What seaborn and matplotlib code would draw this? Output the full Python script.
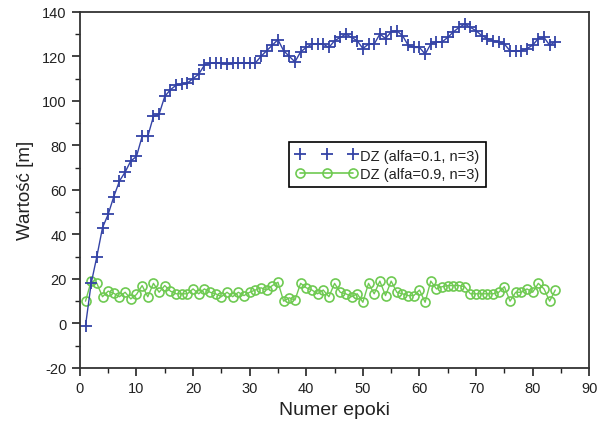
import numpy as np
import pandas as pd
import matplotlib
matplotlib.use("Agg")
import matplotlib.pyplot as plt
import seaborn as sns
from matplotlib.lines import Line2D
from matplotlib.ticker import MultipleLocator

epochs = list(range(1, 85))
dz_alfa01 = [-1, 18, 30, 43, 49, 57, 64, 68, 73, 75,
             84, 84, 93, 94, 102, 105, 107, 107.5, 108, 110,
             112, 116, 117, 117, 117, 116.5, 117, 117, 117, 117,
             117, 120, 122.5, 125, 127.5, 122.5, 120, 117.5, 122, 124,
             125.5, 125.5, 125.5, 124, 127, 128.5, 130, 128.5, 127, 123.5,
             125.5, 125.5, 130, 128, 131, 131.5, 129.3, 125, 124, 124,
             121, 125.5, 126.5, 126.5, 128.5, 131, 133, 134.5, 133, 131.5,
             129.3, 128, 127, 126.5, 125.5, 122.5, 122.5, 122.5, 123.5, 125,
             128, 128.5, 125, 126.5]
dz_alfa09 = [10, 19, 18, 12, 14.5, 13.5, 12, 14, 11, 13,
             17, 12, 18, 14, 17, 14.5, 13.3, 13.3, 13.3, 15.5,
             13.3, 15.5, 14, 13.3, 12, 14, 12, 14, 12.5, 14,
             15, 16, 15, 17, 18.5, 10, 11.5, 10.5, 18, 16,
             15, 13.3, 15, 12, 18, 14, 13.3, 12, 13.3, 9.5,
             18, 13.3, 19, 12.5, 19, 14, 13.3, 12.5, 12.5, 15,
             9.5, 19, 15.5, 16.5, 17, 17, 17, 16.5, 13.3, 13.3,
             13.3, 13.3, 13.3, 14, 16.5, 10, 14, 14, 15.5, 14,
             18, 15.5, 10, 15]
labels = ["DZ (alfa=0.1, n=3)", "DZ (alfa=0.9, n=3)"]
x_label = "Numer epoki"
y_label = "Wartość [m]"

blue = "#3443a6"
green = "#6fca52"

sns.set_style("ticks")
plt.rcParams['font.family'] = ['Liberation Sans', 'DejaVu Sans']
plt.rcParams['axes.unicode_minus'] = False

df = pd.DataFrame({"epoka": epochs, "a01": dz_alfa01, "a09": dz_alfa09})

fig = plt.figure(figsize=(6.05, 4.27), dpi=100)
ax = fig.add_axes([0.132, 0.136, 0.842, 0.834])

sns.lineplot(data=df, x="epoka", y="a09", ax=ax, color=green, marker="o",
             markersize=6.5, markerfacecolor="none", markeredgecolor=green,
             markeredgewidth=1.2, linewidth=1.0)
sns.lineplot(data=df, x="epoka", y="a01", ax=ax, color=blue, marker="+",
             markersize=8, markeredgecolor=blue, markerfacecolor=blue,
             markeredgewidth=1.3, linewidth=1.0)

ax.set_xlim(0, 90)
ax.set_ylim(-20, 140)
ax.xaxis.set_major_locator(MultipleLocator(10))
ax.xaxis.set_minor_locator(MultipleLocator(5))
ax.yaxis.set_major_locator(MultipleLocator(20))
ax.yaxis.set_minor_locator(MultipleLocator(10))
ax.tick_params(which="major", direction="out", length=6, width=1.2,
               labelsize=10.5, colors="#222222")
ax.tick_params(which="minor", direction="out", length=3.5, width=1.0,
               colors="#222222")
for s in ax.spines.values():
    s.set_color("#333333")
    s.set_linewidth(1.3)

ax.set_xlabel(x_label, fontsize=14, color="#222222", labelpad=4)
ax.set_ylabel(y_label, fontsize=13.5, color="#222222", labelpad=6)

handles = [
    Line2D([0], [0], color=blue, linestyle="none", marker="+",
           markersize=8, markeredgewidth=1.3),
    Line2D([0], [0], color=green, linestyle="-", linewidth=1.2, marker="o",
           markersize=6.5, markerfacecolor="none", markeredgecolor=green,
           markeredgewidth=1.2),
]
leg = ax.legend(handles, labels, loc="upper left",
                bbox_to_anchor=(0.397, 0.655), numpoints=3,
                handlelength=4.2, handletextpad=0.2, borderpad=0.45,
                labelspacing=0.3, fancybox=False, framealpha=1,
                edgecolor="black", prop={"size": 10.5})
leg.get_frame().set_linewidth(1.2)
for t in leg.get_texts():
    t.set_color("#222222")

fig.savefig("out.png", dpi=100)
